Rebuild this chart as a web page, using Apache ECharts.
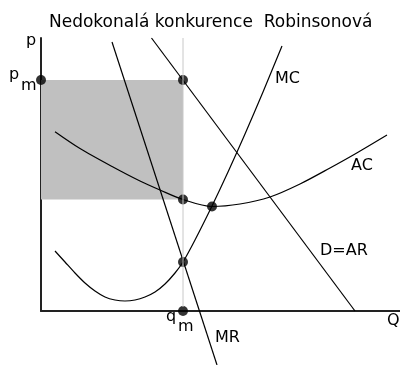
<!DOCTYPE html>
<html>
<head>
<meta charset="utf-8">
<script src="https://cdn.jsdelivr.net/npm/echarts@6/dist/echarts.min.js"></script>
<style>
  html, body { margin: 0; padding: 0; background: #fff; }
  #main { width: 400px; height: 365px; }
</style>
</head>
<body>
<div id="main"></div>
<script>
// quantity / price in chart units (0..359 across, 0..273 up)
var qMax = 359, pMax = 273;

// monopoly optimum
var qm = 142;          // output where MR = MC
var pm = 231;
var acAtQm = 111.5;    // average cost at qm

var acCurve = [[14, 179.3], [39, 162.5], [72, 144], [99, 130], [119, 121], [142, 111.5],
               [171, 104.5], [199, 107], [229, 114], [259, 127], [289, 143], [314, 157], [346, 176]];
var mcCurve = [[14, 60], [24, 49], [34, 38], [44, 28], [54, 20], [64, 14], [74, 11], [84, 10],
               [94, 11], [104, 14], [114, 19], [124, 27], [134, 38], [142, 49], [154, 71],
               [171, 105], [187, 139], [204, 177], [222, 219], [241, 265]];
var demand = [[110.5, 273], [314, 0]];
var mr = [[71, 269], [176, -54]];

var keyPoints = [[0, pm], [qm, pm], [qm, acAtQm], [171, 104.5], [qm, 49], [qm, 0]];

var chart = echarts.init(document.getElementById('main'));
var font = 'DejaVu Sans';

function txt(str, x, y, size) {
    return {
        type: 'text', left: x, top: y, silent: true,
        style: { text: str, fill: '#000', font: (size || 16) + 'px "' + font + '"' }
    };
}

function curve(data, smooth) {
    return {
        type: 'line', data: data, smooth: smooth, showSymbol: false, clip: false,
        lineStyle: { color: '#000', width: 1.2 }, z: 3, silent: true
    };
}

var option = {
    animation: false,
    grid: { left: 41, top: 38, width: 359, height: 273 },
    xAxis: {
        type: 'value', min: 0, max: qMax,
        axisLine: { show: true, lineStyle: { color: '#222', width: 2 } },
        axisTick: { show: false }, axisLabel: { show: false }, splitLine: { show: false }
    },
    yAxis: {
        type: 'value', min: 0, max: pMax,
        axisLine: { show: true, lineStyle: { color: '#222', width: 2 } },
        axisTick: { show: false }, axisLabel: { show: false }, splitLine: { show: false }
    },
    graphic: [
        txt('Nedokonalá konkurence  Robinsonová', 49, 14, 17),
        txt('p', 26, 33),
        txt('p', 9, 67),
        txt('m', 21, 78),
        txt('MC', 275, 71),
        txt('AC', 351, 158),
        txt('D=AR', 320, 243),
        txt('q', 166, 309),
        txt('m', 178, 319),
        txt('MR', 215, 330),
        txt('Q', 387, 313)
    ],
    series: [
        {
            type: 'line', data: [], silent: true,
            markArea: {
                silent: true,
                itemStyle: { color: '#c0c0c0' },
                data: [[{ coord: [0, acAtQm] }, { coord: [qm, pm] }]]
            }
        },
        curve(acCurve, 0.3),
        curve(mcCurve, 0.3),
        curve(demand, false),
        curve(mr, false),
        {
            type: 'scatter', data: keyPoints, symbolSize: 10, silent: true, z: 4,
            itemStyle: { color: '#000' }
        },
        {
            type: 'line', data: [[qm, 4], [qm, pMax]], showSymbol: false, silent: true, z: 5,
            lineStyle: { color: '#c8c8c8', width: 1 }
        }
    ]
};
chart.setOption(option);
</script>
</body>
</html>
